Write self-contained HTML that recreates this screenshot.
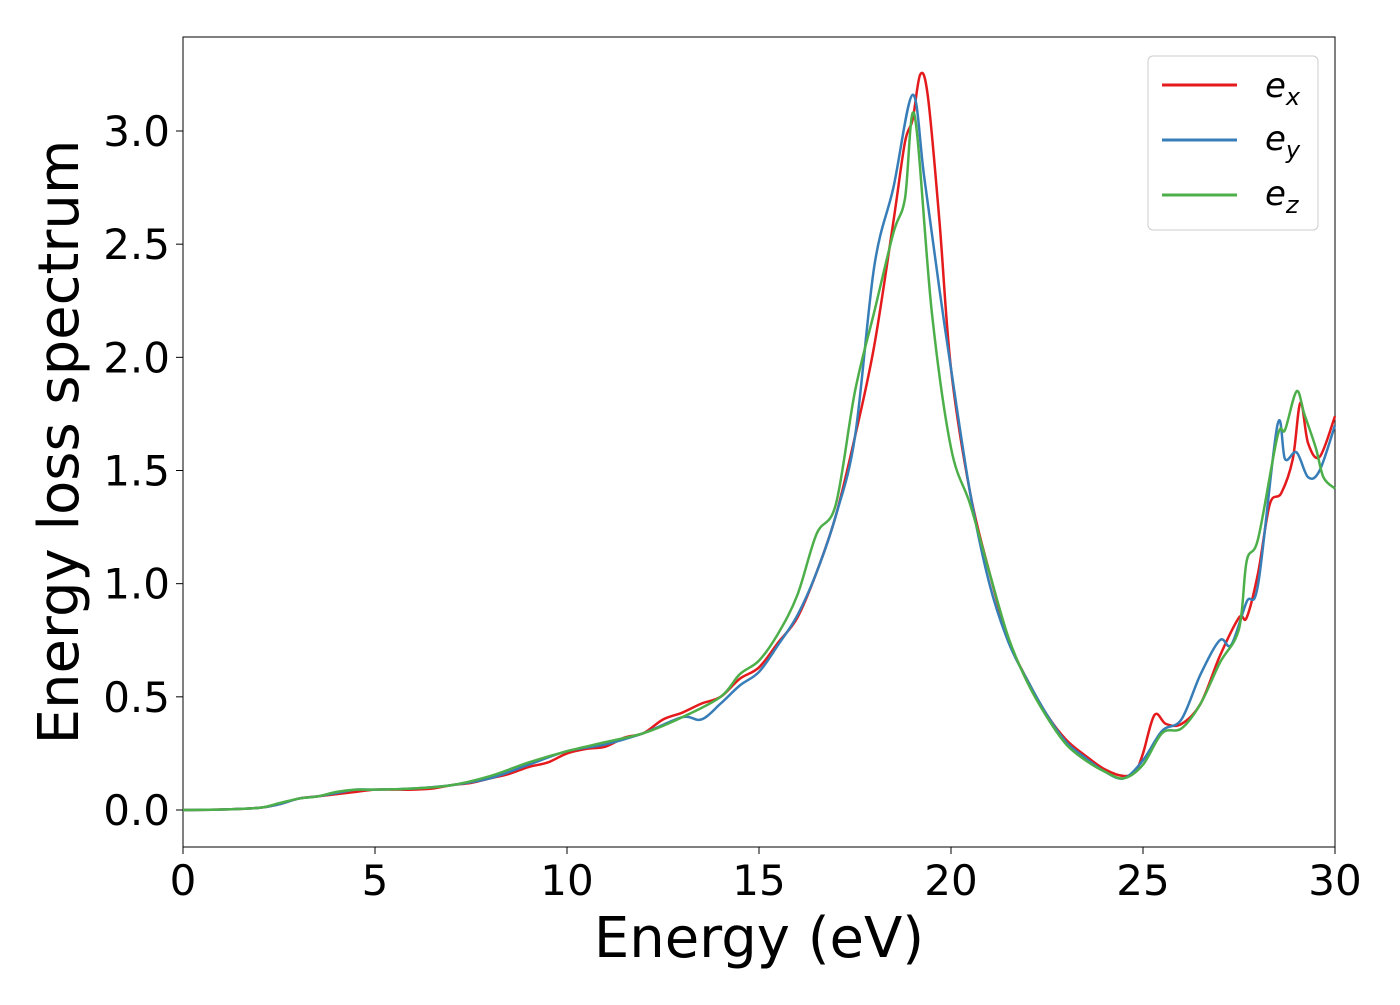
<!DOCTYPE html>
<html><head><meta charset="utf-8"><style>
body{margin:0;background:#fff;}
svg text{font-family:"DejaVu Sans","Liberation Sans",sans-serif;}
</style></head><body>
<svg id="chart" width="1400" height="1000">
<rect x="183" y="37" width="1152" height="810" fill="none" stroke="#000" stroke-width="1"/>
<g id="series"></g>
<g id="axes"></g>
<text x="759" y="957" text-anchor="middle" font-size="56">Energy (eV)</text>
<text transform="translate(78,442) rotate(-90)" text-anchor="middle" font-size="56">Energy loss spectrum</text>
<g>
<rect x="1148" y="56" width="170" height="174" rx="5" fill="#fff" stroke="#ccc"/>
<line x1="1162" y1="85" x2="1237" y2="85" stroke="#e41a1c" stroke-width="3"/>
<text x="1265" y="97" font-size="34" font-style="italic">e<tspan font-size="24" dy="8">x</tspan></text>
<line x1="1162" y1="140" x2="1237" y2="140" stroke="#377eb8" stroke-width="3"/>
<text x="1265" y="150" font-size="34" font-style="italic">e<tspan font-size="24" dy="8">y</tspan></text>
<line x1="1162" y1="195" x2="1237" y2="195" stroke="#4daf4a" stroke-width="3"/>
<text x="1265" y="205" font-size="34" font-style="italic">e<tspan font-size="24" dy="8">z</tspan></text>
</g>
</svg>
<script>
const xTicks=[0,5,10,15,20,25,30];
const yTicks=[0.0,0.5,1.0,1.5,2.0,2.5,3.0];
const yTickLabels=["0.0","0.5","1.0","1.5","2.0","2.5","3.0"];
const exX=[0,1,2,2.5,3,3.5,4,4.5,5,5.5,6,6.5,7,7.5,8,8.5,9,9.5,10,10.5,11,11.5,12,12.5,13,13.5,14,14.5,15,15.5,16,16.5,17,17.5,18,18.5,18.8,19,19.2,19.4,19.7,20,20.5,21,21.5,22,22.5,23,23.5,24,24.5,24.8,25,25.3,25.6,26,26.5,27,27.5,27.7,28,28.3,28.6,28.9,29.1,29.3,29.6,30];
const exY=[0,0.002,0.01,0.025,0.05,0.06,0.07,0.08,0.09,0.09,0.09,0.095,0.11,0.12,0.14,0.16,0.19,0.21,0.25,0.27,0.28,0.32,0.34,0.40,0.43,0.47,0.50,0.58,0.63,0.74,0.85,1.05,1.3,1.65,2.05,2.6,2.95,3.05,3.25,3.15,2.6,1.95,1.4,1.05,0.75,0.57,0.42,0.31,0.24,0.18,0.15,0.17,0.25,0.42,0.38,0.38,0.47,0.68,0.85,0.85,1.05,1.35,1.4,1.55,1.8,1.62,1.56,1.74];
const eyX=[0,1,2,2.5,3,3.5,4,4.5,5,6,7,8,9,10,11,12,13,13.5,14,14.5,15,15.5,16,16.5,17,17.5,18,18.5,19,19.3,19.7,20,20.5,21,21.5,22,22.5,23,23.5,24,24.5,25,25.5,26,26.5,27,27.3,27.7,28,28.5,28.7,29,29.3,29.6,30];
const eyY=[0,0.002,0.01,0.025,0.05,0.06,0.075,0.09,0.09,0.095,0.11,0.14,0.2,0.26,0.29,0.34,0.41,0.40,0.47,0.55,0.61,0.73,0.86,1.05,1.3,1.65,2.4,2.75,3.16,2.8,2.3,1.95,1.4,1.0,0.74,0.57,0.42,0.3,0.23,0.17,0.14,0.22,0.35,0.4,0.6,0.75,0.73,0.92,1.0,1.7,1.55,1.58,1.47,1.5,1.7];
const ezX=[0,1,2,2.5,3,3.5,4,4.5,5,6,7,8,9,10,11,12,13,14,14.5,15,15.5,16,16.5,17,17.5,18,18.5,18.8,19.05,19.5,20,20.5,21,21.5,22,22.5,23,23.5,24,24.5,25,25.5,26,26.5,27,27.5,27.7,28,28.5,28.7,29,29.2,29.5,29.7,30];
const ezY=[0,0.002,0.01,0.03,0.05,0.06,0.08,0.09,0.09,0.095,0.11,0.15,0.21,0.26,0.3,0.34,0.41,0.5,0.6,0.66,0.78,0.95,1.22,1.35,1.85,2.2,2.55,2.7,3.07,2.2,1.6,1.35,1.05,0.76,0.56,0.41,0.29,0.22,0.17,0.14,0.2,0.34,0.36,0.47,0.65,0.8,1.1,1.2,1.65,1.68,1.85,1.75,1.6,1.47,1.42];
const X0=183,X1=1335,Y0=810,Y3=131;
function sx(v){return X0+(X1-X0)*v/30;}
function sy(v){return Y0+(Y3-Y0)*v/3;}
const NS="http://www.w3.org/2000/svg";
const sg=document.getElementById('series'),ag=document.getElementById('axes');
function path(xs,ys){let p=xs.map((x,i)=>[sx(x),sy(ys[i])]);let d="M"+p[0][0]+","+p[0][1];
for(let i=0;i<p.length-1;i++){const a=p[Math.max(0,i-1)],b=p[i],c=p[i+1],e=p[Math.min(p.length-1,i+2)];
d+=" C"+(b[0]+(c[0]-a[0])/6)+","+(b[1]+(c[1]-a[1])/6)+" "+(c[0]-(e[0]-b[0])/6)+","+(c[1]-(e[1]-b[1])/6)+" "+c[0]+","+c[1];}return d;}
[[exX,exY,"#e41a1c","series-ex"],[eyX,eyY,"#377eb8","series-ey"],[ezX,ezY,"#4daf4a","series-ez"]].forEach(s=>{
const el=document.createElementNS(NS,'path');el.setAttribute('d',path(s[0],s[1]));el.setAttribute('fill','none');el.setAttribute('stroke',s[2]);el.setAttribute('stroke-width','2.5');


sg.appendChild(el);});
xTicks.forEach(t=>{const l=document.createElementNS(NS,'line');l.setAttribute('x1',sx(t));l.setAttribute('x2',sx(t));l.setAttribute('y1',847);l.setAttribute('y2',854);l.setAttribute('stroke','#000');


ag.appendChild(l);
const tx=document.createElementNS(NS,'text');tx.setAttribute('x',sx(t));tx.setAttribute('y',895);tx.setAttribute('text-anchor','middle');tx.setAttribute('font-size','42');tx.textContent=t;


ag.appendChild(tx);});
yTicks.forEach((t,i)=>{const l=document.createElementNS(NS,'line');l.setAttribute('x1',176);l.setAttribute('x2',183);l.setAttribute('y1',sy(t));l.setAttribute('y2',sy(t));l.setAttribute('stroke','#000');


ag.appendChild(l);
const tx=document.createElementNS(NS,'text');tx.setAttribute('x',170);tx.setAttribute('y',sy(t)+15);tx.setAttribute('text-anchor','end');tx.setAttribute('font-size','42');tx.textContent=yTickLabels[i];


ag.appendChild(tx);});
</script>
</body></html>
